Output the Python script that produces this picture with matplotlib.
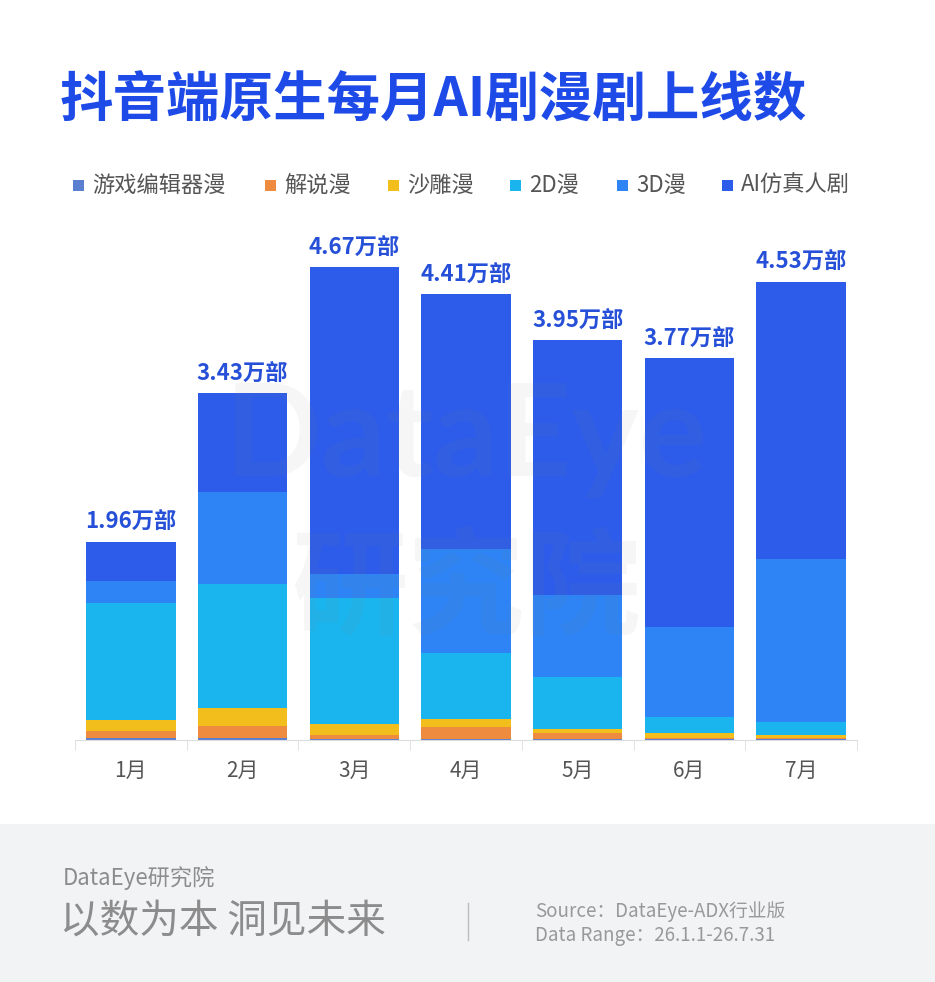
import matplotlib.pyplot as plt
import numpy as np
from matplotlib.patches import Rectangle

plt.rcParams['font.family'] = ['Noto Sans CJK SC', 'DejaVu Sans']

# Data (万部)
months = ['1月', '2月', '3月', '4月', '5月', '6月', '7月']
totals = [1.96, 3.43, 4.67, 4.41, 3.95, 3.77, 4.53]
series_names = ['游戏编辑器漫', '解说漫', '沙雕漫', '2D漫', '3D漫', 'AI仿真人剧']
game = [0.017, 0.017, 0.010, 0.005, 0.006, 0.005, 0.005]
jieshuo = [0.075, 0.120, 0.040, 0.128, 0.060, 0.010, 0.010]
shadiao = [0.106, 0.178, 0.112, 0.070, 0.040, 0.050, 0.030]
anim_2d = [1.160, 1.225, 1.245, 0.660, 0.514, 0.158, 0.128]
anim_3d = [0.215, 0.910, 0.234, 1.020, 0.810, 0.890, 1.620]
ai_real = [0.387, 0.980, 3.029, 2.527, 2.520, 2.657, 2.737]

colors = ['#5A7ED0', '#EE8B3F', '#F1BE1B', '#1AB5EE', '#2E84F5', '#2D5CEA']

W, H = 935, 982
fig = plt.figure(figsize=(W / 100, H / 100), dpi=100)
fig.patch.set_facecolor('white')

# footer band
fig.patches.append(Rectangle((0, 0), 1, (H - 824) / H, transform=fig.transFigure,
                             facecolor='#F2F3F5', edgecolor='none', zorder=0))

ax = fig.add_axes([75 / W, (H - 740) / H, 782 / W, 500 / H])
ax.set_facecolor('none')

x = np.arange(len(months))
bottom = np.zeros(len(months))
for vals, c in zip([game, jieshuo, shadiao, anim_2d, anim_3d, ai_real], colors):
    ax.bar(x, vals, width=0.8, bottom=bottom, color=c, edgecolor='none', zorder=2)
    bottom += np.array(vals)

for xi, t in zip(x, totals):
    ax.annotate(f'{t:.2f}万部', (xi, t), xytext=(0, 6), textcoords='offset points',
                ha='center', va='bottom', fontsize=16, fontweight='bold', color='#2750D8')

ax.set_xlim(-0.5, len(months) - 0.5)
ax.set_ylim(0, 500 / 101.2)
ax.set_yticks([])
for s in ['top', 'right', 'left']:
    ax.spines[s].set_visible(False)
ax.spines['bottom'].set_color('#DDDDDD')
ax.set_xticks(x)
ax.set_xticklabels(months, fontsize=15, color='#555555')
ax.tick_params(axis='x', which='major', length=0, pad=14)
ax.set_xticks(np.arange(-0.5, len(months), 1), minor=True)
ax.tick_params(axis='x', which='minor', length=7, color='#DDDDDD')

# watermark
ax.text(0.5, 0.60, 'DataEye', transform=ax.transAxes, ha='center', va='center',
        fontsize=92, fontweight='bold', color='#808080', alpha=0.07, zorder=3,
        family=['Lato', 'DejaVu Sans'])
ax.text(0.5, 0.295, '研究院', transform=ax.transAxes, ha='center', va='center',
        fontsize=84, fontweight='bold', color='#808080', alpha=0.07, zorder=3)

# title
fig.text(60 / W, 1 - 101 / H, '抖音端原生每月AI剧漫剧上线数', ha='left', va='center',
         fontsize=38.5, fontweight='heavy', color='#1E4AE8')

# legend
leg_x = [73, 265, 388, 510, 617, 722]
for lx, name, c in zip(leg_x, series_names, colors):
    fig.patches.append(Rectangle((lx / W, 1 - 191 / H), 11 / W, 11 / H,
                                 transform=fig.transFigure, facecolor=c, edgecolor='none'))
    fig.text((lx + 19) / W, 1 - 185 / H, name, ha='left', va='center',
             fontsize=16, color='#555555')

# footer
fig.text(63 / W, 1 - 878 / H, 'DataEye研究院', ha='left', va='center', fontsize=16, color='#8C8C8C')
fig.text(60 / W, 1 - 922 / H, '以数为本 洞见未来', ha='left', va='center', fontsize=28.5, color='#8C8C8C')
fig.add_artist(plt.Line2D([468 / W, 468 / W], [1 - 903 / H, 1 - 940 / H], color='#BBBBBB', lw=1))
fig.text(535 / W, 1 - 911 / H, 'Source：DataEye-ADX行业版', ha='left', va='center', fontsize=13.5, color='#999999')
fig.text(535 / W, 1 - 935 / H, 'Data Range：26.1.1-26.7.31', ha='left', va='center', fontsize=13.5, color='#999999')

fig.savefig('out.png', dpi=100)
